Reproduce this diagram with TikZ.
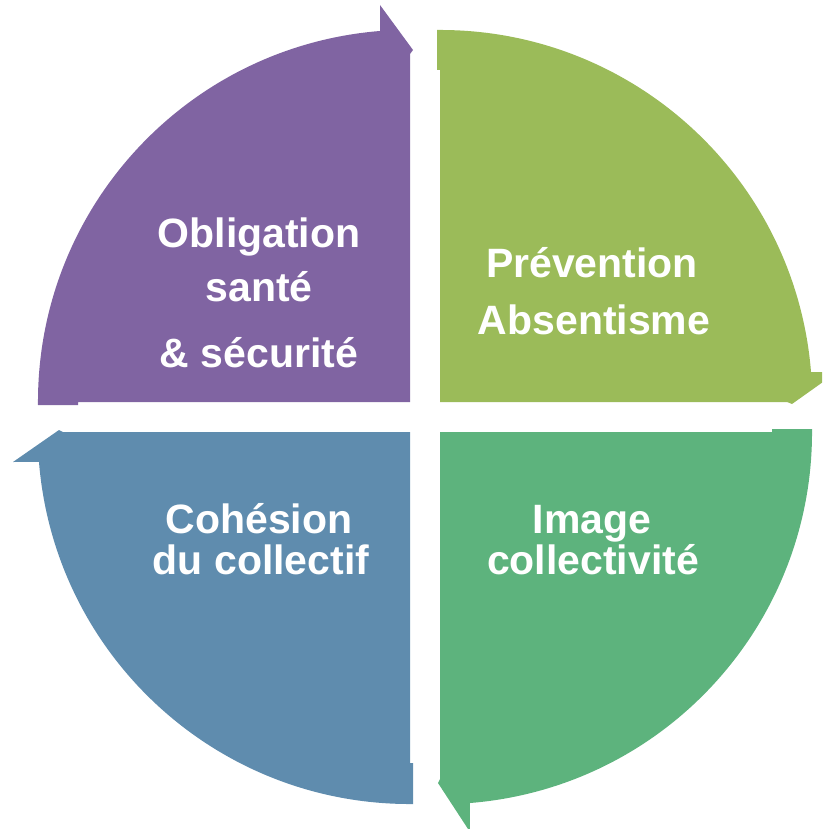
\documentclass[tikz,border=0pt]{standalone}
\usepackage{fontspec}
\setmainfont{Liberation Sans}
\definecolor{cpurple}{RGB}{128,100,162}
\definecolor{cyellowgreen}{RGB}{155,187,89}
\definecolor{cgreen}{RGB}{93,179,125}
\definecolor{cblue}{RGB}{95,140,174}
\begin{document}
\begin{tikzpicture}[x=1pt,y=-1pt,
  lbl/.style={font=\fontsize{41}{41}\selectfont\bfseries, text=white, anchor=base, inner sep=0pt}]
\useasboundingbox (0,0) rectangle (822,829);
\clip (0,0) rectangle (822,829);
% purple, top-left
\fill[cpurple] (410,402) -- (78,402) -- (78,405) -- (38,405)
  arc[start angle=179.5, end angle=265.4, radius=372]
  -- (380,5) -- (413,50) -- (410,54) -- cycle;
% yellow-green, top-right
\fill[cyellowgreen] (440,402) -- (440,70) -- (437,70) -- (437,30)
  arc[start angle=269.5, end angle=355.4, radius=372]
  -- (837,372) -- (792,404) -- (787,402) -- cycle;
% green, bottom-right
\fill[cgreen] (440,432) -- (772,432) -- (772,429) -- (812,429)
  arc[start angle=-0.5, end angle=85.4, radius=372]
  -- (470,832) -- (438,783) -- (440,779) -- cycle;
% blue, bottom-left
\fill[cblue] (410,432) -- (410,763) -- (413,763) -- (413,804)
  arc[start angle=89.5, end angle=175.4, radius=372]
  -- (13,462) -- (59,430) -- (63,432) -- cycle;
% labels
\node[lbl] (t1) at (259,247) {Obligation};
\node[lbl] (t2) at (259,301) {santé};
\node[lbl] (t3) at (259,367) {\& sécurité};
\node[lbl] (t4) at (592,277) {Prévention};
\node[lbl] (t5) at (594,334) {Absentisme};
\node[lbl] (t6) at (259,533) {Cohésion};
\node[lbl] (t7) at (261,574) {du collectif};
\node[lbl] (t8) at (592,533) {Image};
\node[lbl] (t9) at (593,574) {collectivité};
\end{tikzpicture}
\end{document}
